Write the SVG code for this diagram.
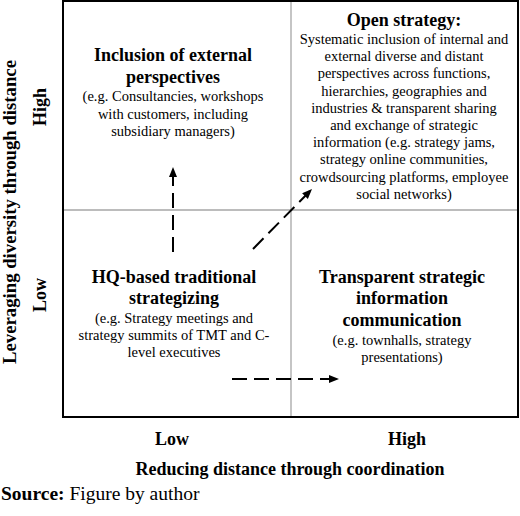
<svg xmlns="http://www.w3.org/2000/svg" width="520" height="516" viewBox="0 0 520 516">
<style>
text{font-family:"Liberation Serif","Times New Roman",serif;fill:#000}
.t{font-size:18px;font-weight:bold;text-anchor:middle}
.s{font-size:14.5px;text-anchor:middle}
.ax{font-size:18px;font-weight:bold;text-anchor:middle}
.arr{stroke:#000;stroke-width:2;fill:none;stroke-dasharray:15 7}
</style>
<defs>
<marker id="ah" markerUnits="userSpaceOnUse" markerWidth="12" markerHeight="10" refX="10" refY="4" orient="auto">
<path d="M0,0 L10,4 L0,8 Z" fill="#000"/>
</marker>
</defs>
<rect width="520" height="516" fill="#fff"/>
<g id="frame">
<line x1="291" y1="1" x2="291" y2="417" stroke="#a6a6a6" stroke-width="1.3"/>
<line x1="63" y1="210" x2="518" y2="210" stroke="#a6a6a6" stroke-width="1.3"/>
<rect x="63" y="1" width="455" height="416" fill="none" stroke="#000" stroke-width="2"/>
</g>
<g id="q-external">
<text class="t" x="173" y="61">Inclusion of external</text>
<text class="t" x="173" y="82.5">perspectives</text>
<text class="s" x="173" y="101">(e.g. Consultancies, workshops</text>
<text class="s" x="173" y="118.5">with customers, including</text>
<text class="s" x="173" y="136">subsidiary managers)</text>
</g>
<g id="q-open">
<text class="t" x="404" y="26">Open strategy:</text>
<text class="s" x="404" y="44">Systematic inclusion of internal and</text>
<text class="s" x="404" y="61.2">external diverse and distant</text>
<text class="s" x="404" y="78.4">perspectives across functions,</text>
<text class="s" x="404" y="95.6">hierarchies, geographies and</text>
<text class="s" x="404" y="112.8">industries &amp; transparent sharing</text>
<text class="s" x="404" y="130">and exchange of strategic</text>
<text class="s" x="404" y="147.2">information (e.g. strategy jams,</text>
<text class="s" x="404" y="164.4">strategy online communities,</text>
<text class="s" x="404" y="181.6">crowdsourcing platforms, employee</text>
<text class="s" x="404" y="198.8">social networks)</text>
</g>
<g id="q-hq">
<text class="t" x="174" y="282.5">HQ-based traditional</text>
<text class="t" x="174" y="304">strategizing</text>
<text class="s" x="174" y="322.5">(e.g. Strategy meetings and</text>
<text class="s" x="174" y="339.5">strategy summits of TMT and C-</text>
<text class="s" x="174" y="356.5">level executives</text>
</g>
<g id="q-transparent">
<text class="t" x="402" y="282.5">Transparent strategic</text>
<text class="t" x="402" y="304">information</text>
<text class="t" x="402" y="325.5">communication</text>
<text class="s" x="402" y="344.5">(e.g. townhalls, strategy</text>
<text class="s" x="402" y="361.5">presentations)</text>
</g>
<g id="axes">
<text class="ax" x="16" y="212" transform="rotate(-90 16 212)" textLength="304" lengthAdjust="spacingAndGlyphs">Leveraging diversity through distance</text>
<text class="ax" x="46" y="107" transform="rotate(-90 46 107)">High</text>
<text class="ax" x="46" y="295" transform="rotate(-90 46 295)">Low</text>
<text class="ax" x="172" y="445">Low</text>
<text class="ax" x="407" y="445">High</text>
<text class="ax" x="290" y="475">Reducing distance through coordination</text>
</g>
<g id="connectors">
<line class="arr" x1="173" y1="252" x2="173" y2="167" marker-end="url(#ah)"/>
<line class="arr" x1="253" y1="249" x2="312" y2="189" marker-end="url(#ah)"/>
<line class="arr" x1="232" y1="379" x2="339" y2="379" marker-end="url(#ah)"/>
</g>
<text x="1" y="500" font-size="19.5"><tspan font-weight="bold">Source:</tspan> Figure by author</text>
</svg>
